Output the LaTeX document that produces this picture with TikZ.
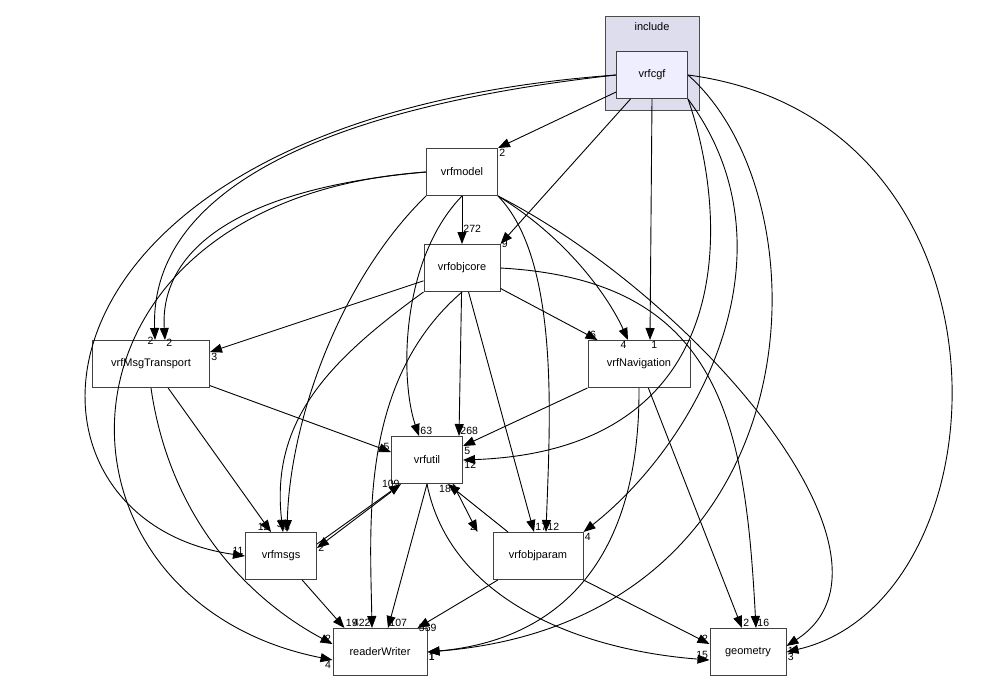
\documentclass[tikz,border=0pt]{standalone}
\usepackage{fontspec}
\setmainfont{Liberation Sans}
\usetikzlibrary{arrows.meta, positioning}

\tikzset{
  dir/.style={draw=black!75, line width=1pt, minimum height=47pt, inner sep=2pt, font=\fontsize{11}{13}\selectfont, fill=white},
  dep/.style={-{Triangle[length=12pt,width=9pt]}, black, line width=0.9pt},
  lbl/.style={font=\fontsize{10.5}{12}\selectfont, inner sep=1pt}
}

\begin{document}
\begin{tikzpicture}[x=1pt, y=1pt]
    \useasboundingbox (0,0) rectangle (985,-681);
    % include cluster
    \draw[black!70, line width=1pt, fill={rgb,255:red,221;green,221;blue,238}] (605,-16) rectangle (699,-110);
    \node[lbl, font=\fontsize{11}{13}\selectfont] (inc) at (652,-27) {include};

    \node[dir, fill={rgb,255:red,238;green,238;blue,255}, minimum width=71pt] (cgf) at (652,-75) {vrfcgf};
    \node[dir, minimum width=71pt] (model) at (462,-172) {vrfmodel};
    \node[dir, minimum width=76pt] (objcore) at (462,-268) {vrfobjcore};
    \node[dir, minimum width=117pt] (msgt) at (151,-364) {vrfMsgTransport};
    \node[dir, minimum width=102pt] (nav) at (639,-364) {vrfNavigation};
    \node[dir, minimum width=71pt] (util) at (427,-460) {vrfutil};
    \node[dir, minimum width=71pt] (msgs) at (281,-556) {vrfmsgs};
    \node[dir, minimum width=90pt] (objparam) at (538,-556) {vrfobjparam};
    \node[dir, minimum width=94pt] (rw) at (380,-652) {readerWriter};
    \node[dir, minimum width=76pt] (geo) at (748,-652) {geometry};

    % from vrfcgf
    \draw[dep] (cgf) -- (model.north east) node[lbl, anchor=north west] {2};
    \draw[dep] (cgf) -- (objcore.north east) node[lbl, anchor=west] {9};
    \draw[dep] (cgf.west) .. controls (300,-110) and (150,-200) .. ([xshift=4pt]msgt.north) node[lbl, anchor=north east, pos=0.99] {2};
    \draw[dep] (cgf.south) -- ([xshift=11pt]nav.north) node[lbl, anchor=north west] {1};
    \draw[dep] (cgf.south east) .. controls (730,-220) and (740,-450) .. (util.east) node[lbl, anchor=north west] {12};
    \draw[dep] (cgf.west) .. controls (0,-120) and (-10,-520) .. (msgs.west) node[lbl, anchor=south east] {11};
    \draw[dep] (cgf.south east) .. controls (800,-250) and (700,-440) .. (objparam.north east) node[lbl, anchor=north west] {4};
    \draw[dep] (cgf.east) .. controls (830,-200) and (820,-620) .. (rw.east) node[lbl, anchor=north west] {1};
    \draw[dep] (cgf.east) .. controls (1030,-120) and (1010,-600) .. (geo.east) node[lbl, anchor=north west] {3};

    % from vrfmodel
    \draw[dep] (model) -- (objcore) node[lbl, anchor=south west, pos=0.8] {272};
    \draw[dep] (model.west) .. controls (220,-190) and (160,-260) .. ([xshift=14pt]msgt.north) node[lbl, anchor=north west, pos=0.99] {2};
    \draw[dep] (model.south) .. controls (400,-260) and (400,-380) .. ([xshift=-8pt]util.north) node[lbl, anchor=south west] {63};
    \draw[dep] (model.south west) .. controls (340,-280) and (290,-420) .. ([xshift=6pt]msgs.north) node[lbl, anchor=south] {8};
    \draw[dep] (model.south east) .. controls (560,-260) and (550,-420) .. ([xshift=8pt]objparam.north) node[lbl, anchor=south west] {12};
    \draw[dep] (model.south east) .. controls (570,-240) and (610,-300) .. ([xshift=-11pt]nav.north) node[lbl, anchor=north east] {4};
    \draw[dep] (model.west) .. controls (30,-200) and (30,-600) .. ([yshift=-8pt]rw.west) node[lbl, anchor=north east] {4};
    \draw[dep] (model.south east) .. controls (700,-300) and (920,-560) .. ([yshift=6pt]geo.east) node[lbl, anchor=north west] {1};

    % from vrfobjcore
    \draw[dep] (objcore) -- ([yshift=-12pt]msgt.north east) node[lbl, anchor=north west] {3};
    \draw[dep] (objcore) -- ([xshift=10pt]nav.north west) node[lbl, anchor=south east] {6};
    \draw[dep] (objcore) -- ([xshift=-4pt]util.north east) node[lbl, anchor=south west] {268};
    \draw[dep] (objcore.south west) .. controls (330,-360) and (270,-420) .. ([xshift=2pt]msgs.north) node[lbl, anchor=south, pos=0.99] {31};
    \draw[dep] (objcore) -- ([xshift=-4pt]objparam.north) node[lbl, anchor=south west] {17};
    \draw[dep] (objcore.south) .. controls (360,-380) and (370,-520) .. ([xshift=-8pt]rw.north) node[lbl, anchor=south east] {422};
    \draw[dep] (objcore.east) .. controls (720,-280) and (745,-420) .. ([xshift=8pt]geo.north) node[lbl, anchor=south west] {16};

    % from vrfMsgTransport
    \draw[dep] (msgt) -- ([yshift=8pt]util.west) node[lbl, anchor=south east] {5};
    \draw[dep] (msgt) -- ([xshift=-10pt]msgs.north) node[lbl, anchor=south east] {12};
    \draw[dep] (msgt.south) .. controls (170,-520) and (250,-600) .. ([yshift=8pt]rw.west) node[lbl, anchor=south east] {2};

    % from vrfNavigation
    \draw[dep] (nav) -- ([yshift=14pt]util.east) node[lbl, anchor=north west] {5};
    \draw[dep] (nav.south) .. controls (640,-560) and (560,-640) .. (rw.east) node[lbl, anchor=north west] {1};
    \draw[dep] (nav) -- ([xshift=-6pt]geo.north) node[lbl, anchor=south west] {2};

    % from vrfutil
    \draw[dep] ([yshift=-8pt]util.south west) -- ([yshift=8pt]msgs.east) node[lbl, anchor=west] {2};
    \draw[dep] ([xshift=-10pt]util.south east) -- ([xshift=-15pt]objparam.north west) node[lbl, anchor=south east] {2};
    \draw[dep] (util.south) -- ([xshift=8pt]rw.north) node[lbl, anchor=south west] {107};
    \draw[dep] (util.south) .. controls (450,-600) and (580,-650) .. ([yshift=-8pt]geo.west) node[lbl, anchor=south east] {15};

    % from vrfmsgs, vrfobjparam
    \draw[dep] ([yshift=-12pt]msgs.north east) -- ([xshift=10pt]util.south west) node[lbl, anchor=east] {109};
    \draw[dep] (msgs) -- ([xshift=12pt]rw.north west) node[lbl, anchor=south west] {19};
    \draw[dep] ([xshift=-30pt]objparam.north) -- ([xshift=-15pt]util.south east) node[lbl, anchor=north] {184};
    \draw[dep] (objparam) -- ([xshift=-10pt]rw.north east) node[lbl, anchor=west] {559};
    \draw[dep] (objparam.south east) -- ([yshift=8pt]geo.west) node[lbl, anchor=south east] {2};
\end{tikzpicture}
\end{document}
